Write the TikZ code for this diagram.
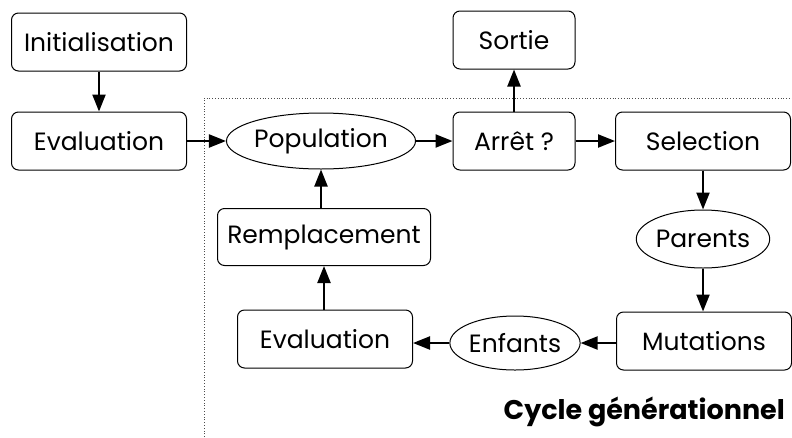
\documentclass[tikz,border=0pt]{standalone}
\usepackage{fontspec}
\setmainfont{Poppins}
\usetikzlibrary{shapes.geometric,arrows.meta}

\tikzset{
  etape/.style={draw, rounded corners=7pt, line width=1pt, minimum height=58pt, inner sep=0pt, font=\fontsize{25}{29}\selectfont},
  groupe/.style={draw, ellipse, line width=1pt, inner sep=0pt, font=\fontsize{25}{29}\selectfont},
  fleche/.style={-{Triangle[length=17pt,width=13pt]}, line width=2.2pt},
}

\begin{document}
\begin{tikzpicture}[x=1pt,y=-1pt]
  \useasboundingbox (0,0) rectangle (792,437);

  % cadre du cycle
  \draw[dotted, line width=0.8pt, black!70] (204,437) -- (204,98) -- (792,98);

  % noeuds
  \node[etape, minimum width=175pt] (init) at (99,42) {Initialisation};
  \node[etape, minimum width=175pt] (eval) at (99,141) {Evaluation};
  \node[groupe, minimum width=182pt, minimum height=56pt] (pop) at (321,141) {Population};
  \node[etape, minimum width=122pt] (arret) at (514,141) {Arrêt ?};
  \node[etape, minimum width=122pt] (sortie) at (514,40) {Sortie};
  \node[etape, minimum width=175pt] (select) at (703,141) {Selection};
  \node[groupe, minimum width=126pt, minimum height=58pt] (parents) at (703,239) {Parents};
  \node[etape, minimum width=175pt] (mut) at (704,341) {Mutations};
  \node[groupe, minimum width=124pt, minimum height=54pt] (enfants) at (515,343) {Enfants};
  \node[etape, minimum width=175pt] (evalb) at (325,339) {Evaluation};
  \node[etape, minimum width=213pt, minimum height=57pt] (rempl) at (324,237) {Remplacement};

  \node[anchor=base east, inner sep=0pt, font=\fontsize{27}{30}\selectfont\bfseries] (cycle) at (785,419) {Cycle générationnel};

  % fleches
  \draw[fleche] (init) -- (eval);
  \draw[fleche] (eval) -- (pop);
  \draw[fleche] (pop) -- (arret);
  \draw[fleche] (arret) -- (sortie);
  \draw[fleche] (arret) -- (select);
  \draw[fleche] (select) -- (parents);
  \draw[fleche] (parents) -- (mut.north -| parents);
  \draw[fleche] (mut.west |- enfants) -- (enfants);
  \draw[fleche] (enfants) -- (evalb.east |- enfants);
  \draw[fleche] (evalb.north -| rempl) -- (rempl);
  \draw[fleche] (rempl.north -| pop) -- (pop);
\end{tikzpicture}
\end{document}
